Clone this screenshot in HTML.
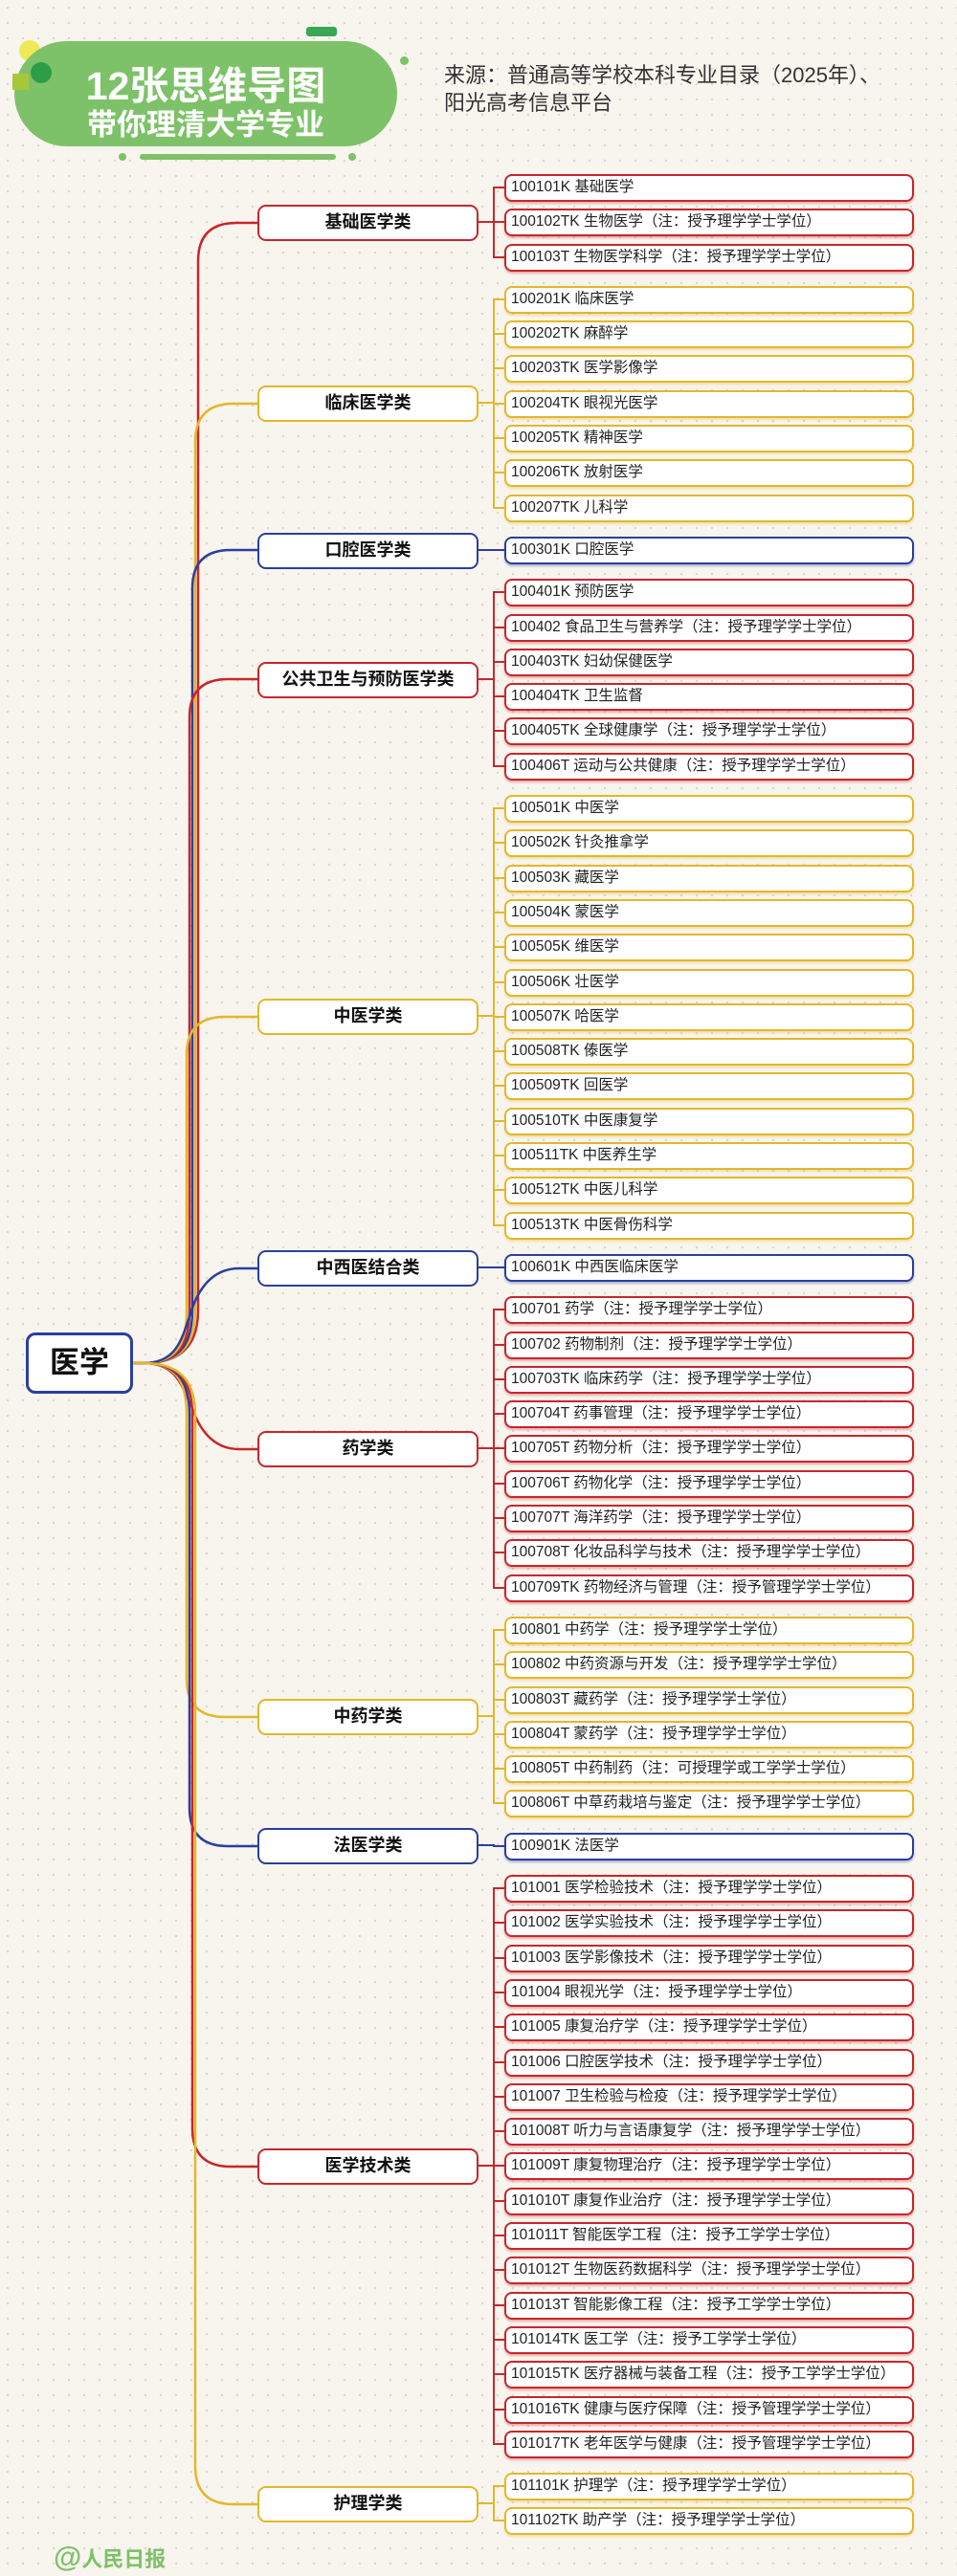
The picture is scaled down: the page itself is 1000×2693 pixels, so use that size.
<!DOCTYPE html>
<html><head><meta charset="utf-8">
<style>
*{box-sizing:border-box;margin:0;padding:0}
body{width:1000px;height:2693px;position:relative;overflow:hidden;background-color:#f8f5ee;background-image:radial-gradient(circle,#dcd8cf 1.1px,transparent 1.4px);background-size:16px 16px;font-family:"Liberation Sans","Noto Sans CJK SC",sans-serif}
.pill{position:absolute;left:15px;top:43px;width:400px;height:110px;background:#7dc268;border-radius:55px 55px 55px 55px}
.t1,.t2{position:absolute;color:#fff;font-weight:bold;text-align:center;width:300px;left:65px}
.t1{top:56px;font-size:41px;letter-spacing:0px}
.t2{top:105px;font-size:31px}
.src{position:absolute;left:464px;top:64px;font-size:22px;line-height:29px;color:#333}
.cat{position:absolute;left:269px;width:231px;height:38px;background:#fff;border:2.5px solid;border-radius:9px;font-weight:bold;font-size:18px;text-align:center;line-height:33px;color:#111}
.cat::after{content:"";position:absolute;left:229px;top:15px;width:17px;border-top:2.5px solid;border-color:inherit}
.g{position:absolute;left:515px;width:440px;display:flex;flex-direction:column;gap:7.3px;border-color:inherit}
.g::before{content:"";position:absolute;left:0;top:14.5px;bottom:14.5px;border-left:2.5px solid;border-color:inherit}
.l{position:relative;margin-left:12px;height:29px;background:#fff;border:2.5px solid;border-color:inherit;border-radius:8px;font-size:15.5px;line-height:24px;padding-left:5px;color:#222;white-space:nowrap}
.l::before{content:"";position:absolute;left:-14px;top:11px;width:12px;border-top:2.5px solid;border-color:inherit}
.r{border-color:#c8262c}.r .l{box-shadow:0 2px 2px rgba(200,38,44,.35)}
.y{border-color:#e3b72a}.y .l{box-shadow:0 2px 2px rgba(227,183,42,.35)}
.b{border-color:#2b3f9c}.b .l{box-shadow:0 2px 2px rgba(43,63,156,.35)}
.root{position:absolute;left:27px;top:1393px;width:112px;height:64px;background:#fff;border:3px solid #2b3f9c;border-radius:10px;font-size:31px;font-weight:bold;text-align:center;line-height:58px;color:#111}
</style></head><body>
<div style="position:absolute;left:320px;top:28px;width:32px;height:10px;background:#3aa757;border-radius:3px"></div>
<div style="position:absolute;left:20px;top:42px;width:22px;height:22px;background:#efe95a;border-radius:50%"></div>
<div class="pill"></div>
<div style="position:absolute;left:32px;top:65px;width:22px;height:22px;background:#2e9d48;border-radius:50%"></div>
<div style="position:absolute;left:13px;top:77px;width:17px;height:17px;background:#a7c83a"></div>
<div style="position:absolute;left:418px;top:59px;width:9px;height:9px;background:#7dc268;border-radius:50%"></div>
<div class="t1">12张思维导图</div>
<div class="t2">带你理清大学专业</div>
<div style="position:absolute;left:146px;top:161px;width:205px;height:6px;background:#7dc268;border-radius:3px"></div>
<div style="position:absolute;left:124px;top:160px;width:8px;height:8px;background:#7dc268;border-radius:50%"></div>
<div style="position:absolute;left:364px;top:160px;width:8px;height:8px;background:#7dc268;border-radius:50%"></div>
<div class="src">来源：普通高等学校本科专业目录（2025年）、<br>阳光高考信息平台</div>

<svg style="position:absolute;left:0;top:0" width="1000" height="2693" fill="none" stroke-width="2.5">
<path stroke="#c8262c" d="M139,1425 L150,1425 C195,1425 207,1400 207,1370 L207,273 Q207,233 247,233 L269,233"/>
<path stroke="#e3b72a" d="M139,1425 L150,1425 C194,1425 204,1400 204,1370 L204,462 Q204,422 244,422 L269,422"/>
<path stroke="#2b3f9c" d="M139,1425 L150,1425 C192,1425 201,1400 201,1370 L201,615 Q201,575 241,575 L269,575"/>
<path stroke="#c8262c" d="M139,1425 L150,1425 C190,1425 198,1400 198,1370 L198,750 Q198,710 238,710 L269,710"/>
<path stroke="#e3b72a" d="M139,1425 L150,1425 C188,1425 195,1400 195,1370 L195,1103 Q195,1063 235,1063 L269,1063"/>
<path stroke="#2b3f9c" d="M139,1425 L150,1425 C185,1425 190,1400 200,1370 Q215,1326 250,1326 L269,1326"/>
<path stroke="#c8262c" d="M139,1425 L150,1425 C185,1425 190,1450 200,1470 Q215,1515 250,1515 L269,1515"/>
<path stroke="#e3b72a" d="M139,1425 L150,1425 C188,1425 195,1450 195,1480 L195,1755 Q195,1795 235,1795 L269,1795"/>
<path stroke="#2b3f9c" d="M139,1425 L150,1425 C190,1425 198,1450 198,1480 L198,1890 Q198,1930 238,1930 L269,1930"/>
<path stroke="#c8262c" d="M139,1425 L150,1425 C192,1425 201,1450 201,1480 L201,2225 Q201,2265 241,2265 L269,2265"/>
<path stroke="#e3b72a" d="M139,1425 L150,1425 C194,1425 204,1450 204,1480 L204,2578 Q204,2618 244,2618 L269,2618"/>
</svg>

<div class="root">医学</div>

<div class="cat r" style="top:213.8px">基础医学类</div>
<div class="g r" style="top:182px">
<div class="l">100101K 基础医学</div>
<div class="l">100102TK 生物医学（注：授予理学学士学位）</div>
<div class="l">100103T 生物医学科学（注：授予理学学士学位）</div>
</div>

<div class="cat y" style="top:403.3px">临床医学类</div>
<div class="g y" style="top:298.9px">
<div class="l">100201K 临床医学</div>
<div class="l">100202TK 麻醉学</div>
<div class="l">100203TK 医学影像学</div>
<div class="l">100204TK 眼视光医学</div>
<div class="l">100205TK 精神医学</div>
<div class="l">100206TK 放射医学</div>
<div class="l">100207TK 儿科学</div>
</div>

<div class="cat b" style="top:556.5px">口腔医学类</div>
<div class="g b" style="top:561px">
<div class="l">100301K 口腔医学</div>
</div>

<div class="cat r" style="top:691.5px">公共卫生与预防医学类</div>
<div class="g r" style="top:605.3px">
<div class="l">100401K 预防医学</div>
<div class="l">100402 食品卫生与营养学（注：授予理学学士学位）</div>
<div class="l">100403TK 妇幼保健医学</div>
<div class="l">100404TK 卫生监督</div>
<div class="l">100405TK 全球健康学（注：授予理学学士学位）</div>
<div class="l">100406T 运动与公共健康（注：授予理学学士学位）</div>
</div>

<div class="cat y" style="top:1044.4px">中医学类</div>
<div class="g y" style="top:831.1px">
<div class="l">100501K 中医学</div>
<div class="l">100502K 针灸推拿学</div>
<div class="l">100503K 藏医学</div>
<div class="l">100504K 蒙医学</div>
<div class="l">100505K 维医学</div>
<div class="l">100506K 壮医学</div>
<div class="l">100507K 哈医学</div>
<div class="l">100508TK 傣医学</div>
<div class="l">100509TK 回医学</div>
<div class="l">100510TK 中医康复学</div>
<div class="l">100511TK 中医养生学</div>
<div class="l">100512TK 中医儿科学</div>
<div class="l">100513TK 中医骨伤科学</div>
</div>

<div class="cat b" style="top:1306.5px">中西医结合类</div>
<div class="g b" style="top:1311px">
<div class="l">100601K 中西医临床医学</div>
</div>

<div class="cat r" style="top:1496px">药学类</div>
<div class="g r" style="top:1355.3px">
<div class="l">100701 药学（注：授予理学学士学位）</div>
<div class="l">100702 药物制剂（注：授予理学学士学位）</div>
<div class="l">100703TK 临床药学（注：授予理学学士学位）</div>
<div class="l">100704T 药事管理（注：授予理学学士学位）</div>
<div class="l">100705T 药物分析（注：授予理学学士学位）</div>
<div class="l">100706T 药物化学（注：授予理学学士学位）</div>
<div class="l">100707T 海洋药学（注：授予理学学士学位）</div>
<div class="l">100708T 化妆品科学与技术（注：授予理学学士学位）</div>
<div class="l">100709TK 药物经济与管理（注：授予管理学学士学位）</div>
</div>

<div class="cat y" style="top:1776.2px">中药学类</div>
<div class="g y" style="top:1690px">
<div class="l">100801 中药学（注：授予理学学士学位）</div>
<div class="l">100802 中药资源与开发（注：授予理学学士学位）</div>
<div class="l">100803T 藏药学（注：授予理学学士学位）</div>
<div class="l">100804T 蒙药学（注：授予理学学士学位）</div>
<div class="l">100805T 中药制药（注：可授理学或工学学士学位）</div>
<div class="l">100806T 中草药栽培与鉴定（注：授予理学学士学位）</div>
</div>

<div class="cat b" style="top:1911.3px">法医学类</div>
<div class="g b" style="top:1915.8px">
<div class="l">100901K 法医学</div>
</div>

<div class="cat r" style="top:2246px">医学技术类</div>
<div class="g r" style="top:1960.1px">
<div class="l">101001 医学检验技术（注：授予理学学士学位）</div>
<div class="l">101002 医学实验技术（注：授予理学学士学位）</div>
<div class="l">101003 医学影像技术（注：授予理学学士学位）</div>
<div class="l">101004 眼视光学（注：授予理学学士学位）</div>
<div class="l">101005 康复治疗学（注：授予理学学士学位）</div>
<div class="l">101006 口腔医学技术（注：授予理学学士学位）</div>
<div class="l">101007 卫生检验与检疫（注：授予理学学士学位）</div>
<div class="l">101008T 听力与言语康复学（注：授予理学学士学位）</div>
<div class="l">101009T 康复物理治疗（注：授予理学学士学位）</div>
<div class="l">101010T 康复作业治疗（注：授予理学学士学位）</div>
<div class="l">101011T 智能医学工程（注：授予工学学士学位）</div>
<div class="l">101012T 生物医药数据科学（注：授予理学学士学位）</div>
<div class="l">101013T 智能影像工程（注：授予工学学士学位）</div>
<div class="l">101014TK 医工学（注：授予工学学士学位）</div>
<div class="l">101015TK 医疗器械与装备工程（注：授予工学学士学位）</div>
<div class="l">101016TK 健康与医疗保障（注：授予管理学学士学位）</div>
<div class="l">101017TK 老年医学与健康（注：授予管理学学士学位）</div>
</div>

<div class="cat y" style="top:2598.8px">护理学类</div>
<div class="g y" style="top:2585.2px">
<div class="l">101101K 护理学（注：授予理学学士学位）</div>
<div class="l">101102TK 助产学（注：授予理学学士学位）</div>
</div>

<div style="position:absolute;left:56px;top:2657px;font-size:30px;font-weight:bold;color:#7dc268;line-height:34px">@<span style="font-size:22px">人民日报</span></div>
</body></html>
